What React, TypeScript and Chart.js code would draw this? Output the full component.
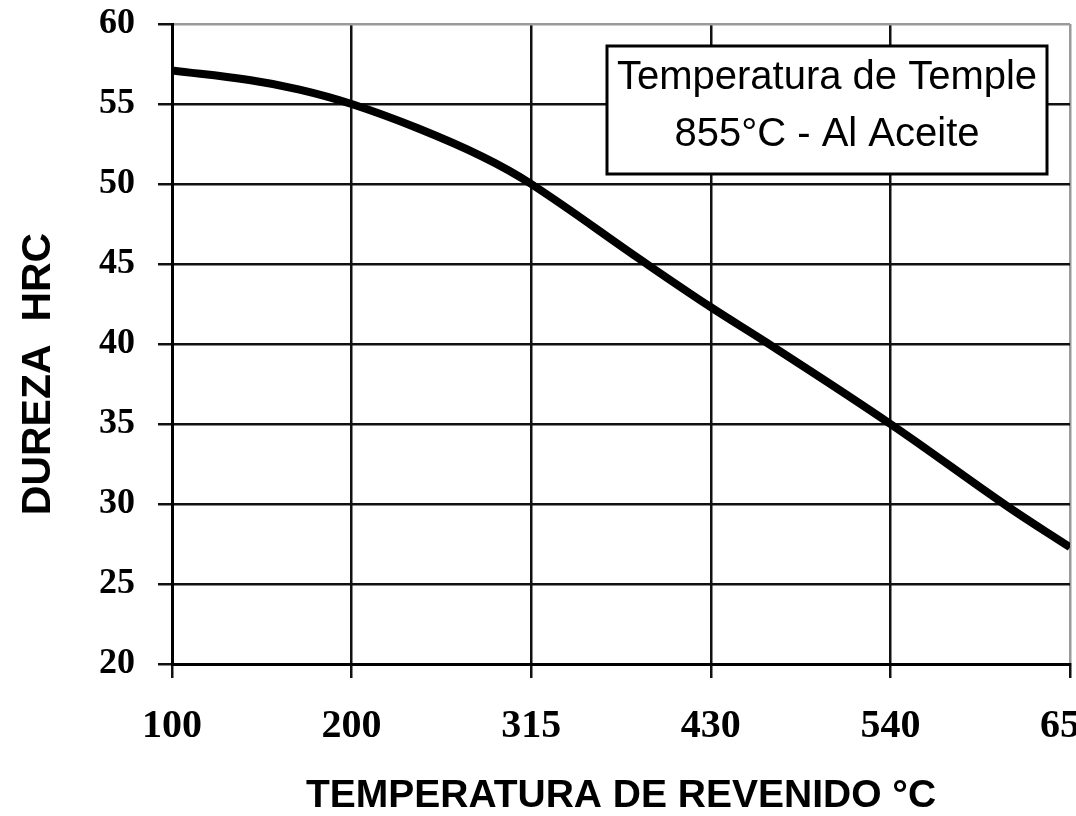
import React, { useEffect, useRef } from "react";
import { Chart, registerables } from "chart.js";

Chart.register(...registerables);

// Tick labels of the (non-uniform) temperature axis
const tempTicks = [100, 200, 315, 430, 540, 650];
const tempTickLabels = ["100", "200", "315", "430", "540", "650"];

// Hardness axis
const hrcMin = 20;
const hrcMax = 60;
const hrcStep = 5;

// Curve: tempering temperature (°C) vs hardness (HRC)
const curveTemps = [100, 143, 171, 200, 242, 284, 315, 386, 430, 464, 540, 611, 650];
const curveHRC = [57.1, 56.5, 55.9, 55.0, 53.5, 51.7, 50.0, 45.2, 42.3, 40.1, 35.0, 29.9, 27.3];

const xTitle = "TEMPERATURA DE REVENIDO °C";
const yTitle = "DUREZA  HRC";
const noteLines = ["Temperatura de Temple", "855°C - Al Aceite"];

// The axis places its tick labels at equal spacing; map a temperature onto that axis.
function tempToAxis(t: number): number {
  for (let i = 0; i < tempTicks.length - 1; i++) {
    if (t <= tempTicks[i + 1]) {
      return i + (t - tempTicks[i]) / (tempTicks[i + 1] - tempTicks[i]);
    }
  }
  return tempTicks.length - 1;
}

const yTitlePlugin = {
  id: "yTitle",
  afterDraw(chart: any) {
    const { ctx, chartArea } = chart;
    ctx.save();
    ctx.translate(38.5, (chartArea.top + chartArea.bottom) / 2 + 30);
    ctx.rotate(-Math.PI / 2);
    ctx.font = 'bold 41px "Liberation Sans", Arial, sans-serif';
    ctx.fillStyle = "#000";
    ctx.textAlign = "center";
    ctx.textBaseline = "middle";
    ctx.fillText(yTitle, 0, 0);
    ctx.restore();
  },
};

const noteBoxPlugin = {
  id: "noteBox",
  afterDatasetsDraw(chart: any) {
    const { ctx, chartArea } = chart;
    const right = chartArea.right - 23;
    const left = right - 440;
    const top = chartArea.top + 22;
    const h = 128;
    ctx.save();
    ctx.fillStyle = "#fff";
    ctx.fillRect(left, top, right - left, h);
    ctx.lineWidth = 3;
    ctx.strokeStyle = "#000";
    ctx.strokeRect(left, top, right - left, h);
    ctx.font = '40px "Liberation Sans", Arial, sans-serif';
    ctx.fillStyle = "#000";
    ctx.textAlign = "center";
    ctx.textBaseline = "alphabetic";
    const cx = (left + right) / 2;
    ctx.fillText(noteLines[0], cx, top + 43);
    ctx.fillText(noteLines[1], cx, top + 100);
    ctx.restore();
  },
};

export default function App() {
  const canvasRef = useRef<HTMLCanvasElement | null>(null);

  useEffect(() => {
    if (!canvasRef.current) return;
    const points = curveTemps.map((t, i) => ({ x: tempToAxis(t), y: curveHRC[i] }));
    const chart = new Chart(canvasRef.current, {
      type: "line",
      data: {
        datasets: [
          {
            data: points,
            borderColor: "#000",
            borderWidth: 8,
            pointRadius: 0,
            tension: 0.4,
            fill: false,
          },
        ],
      },
      options: {
        animation: false,
        responsive: true,
        maintainAspectRatio: false,
        layout: { padding: { top: 24, right: 6, bottom: 0, left: 0 } },
        plugins: {
          legend: { display: false },
          tooltip: { enabled: false },
        },
        scales: {
          x: {
            type: "linear",
            min: 0,
            max: tempTicks.length - 1,
            afterBuildTicks: (scale: any) => {
              scale.ticks = tempTicks.map((_, i) => ({ value: i }));
            },
            afterFit: (scale: any) => {
              scale.height = 152;
              scale.paddingLeft = 0;
              scale.paddingRight = 0;
            },
            ticks: {
              autoSkip: false,
              maxRotation: 0,
              padding: 25,
              color: "#000",
              font: { family: '"Liberation Serif", "Times New Roman", serif', weight: "bold", size: 40 },
              callback: (v: any) => tempTickLabels[Math.round(Number(v))],
            },
            grid: {
              color: (c: any) => (c.index === tempTicks.length - 1 ? "#9a9a9a" : "#111"),
              tickColor: "#111",
              lineWidth: 2.5,
              tickLength: 14,
            },
            border: { color: "#000", width: 3 },
            title: {
              display: true,
              text: xTitle,
              color: "#000",
              padding: { top: 0, bottom: 0 },
              font: { family: '"Liberation Sans", Arial, sans-serif', weight: "bold", size: 39, lineHeight: 1 },
            },
          },
          y: {
            type: "linear",
            min: hrcMin,
            max: hrcMax,
            afterFit: (scale: any) => {
              scale.width = 172;
              scale.paddingTop = 0;
              scale.paddingBottom = 0;
            },
            ticks: {
              stepSize: hrcStep,
              padding: 23,
              color: "#000",
              font: { family: '"Liberation Serif", "Times New Roman", serif', weight: "bold", size: 36 },
            },
            grid: {
              color: (c: any) => (c.tick && c.tick.value === hrcMax ? "#9a9a9a" : "#111"),
              tickColor: "#111",
              lineWidth: 2.5,
              tickLength: 14,
            },
            border: { color: "#000", width: 3 },
          },
        },
      },
      plugins: [yTitlePlugin, noteBoxPlugin],
    } as any);
    return () => chart.destroy();
  }, []);

  return (
    <div style={{ position: "fixed", left: 0, top: 0, width: 1076, height: 816, background: "#fff" }}>
      <canvas ref={canvasRef} />
    </div>
  );
}
